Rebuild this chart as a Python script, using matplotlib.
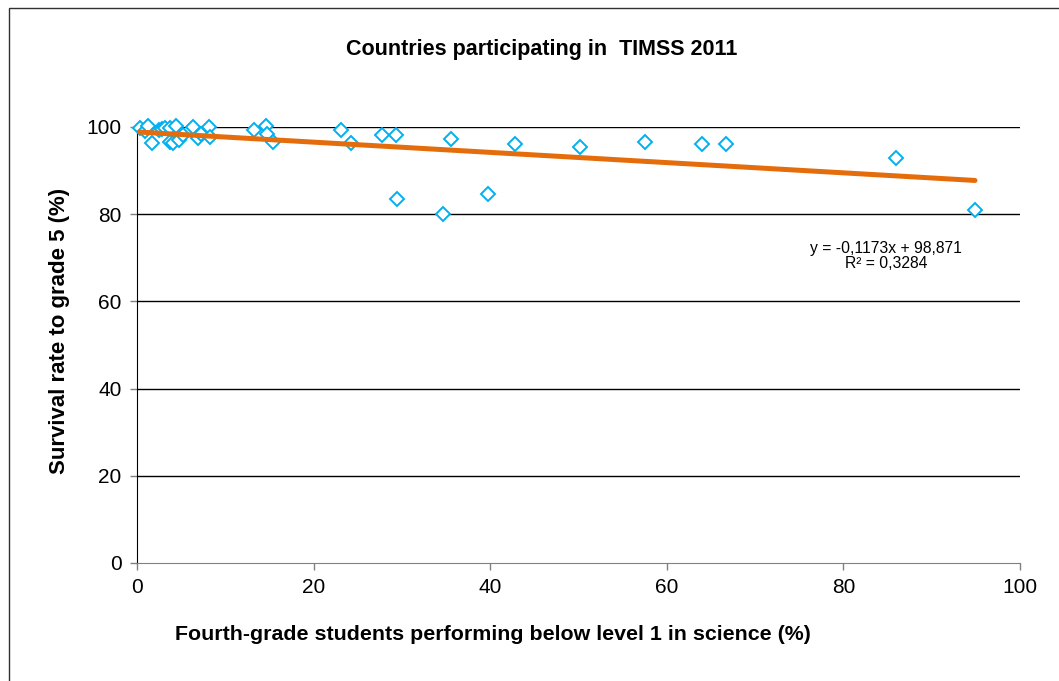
import matplotlib
matplotlib.use("Agg")
import matplotlib.pyplot as plt
from matplotlib.patches import Rectangle

plt.rcParams['font.family'] = ['Liberation Sans', 'DejaVu Sans']

# share of fourth-graders below level 1 in science (%) vs survival rate to grade 5 (%)
below_level1 = [0.3, 0.9, 1.2, 1.7, 2.5, 2.8, 3.2, 3.7, 3.7, 4.1,
                4.4, 4.7, 5.2, 6.3, 6.9, 7.3, 8.2, 8.3, 13.2, 14.6,
                14.7, 15.4, 23.1, 24.2, 27.8, 29.3, 29.5, 34.6, 35.6, 39.7,
                42.8, 50.2, 57.5, 64.0, 66.7, 86.0, 94.9]
survival = [99.7, 99.0, 100.2, 96.3, 99.2, 99.5, 99.8, 99.7, 96.6, 96.3,
            100.2, 97.0, 98.2, 99.9, 97.4, 98.5, 99.9, 97.8, 99.2, 100.2,
            98.5, 96.6, 99.2, 96.3, 98.2, 98.2, 83.4, 80.0, 97.2, 84.6,
            96.0, 95.4, 96.5, 96.0, 96.0, 93.0, 81.0]

# linear trend as reported on the chart
slope = -0.1173
intercept = 98.871
r2 = 0.3284

x_ticks = [0, 20, 40, 60, 80, 100]
y_ticks = [0, 20, 40, 60, 80, 100]

fig = plt.figure(figsize=(10.59, 6.81), dpi=100)
ax = fig.add_axes([137 / 1059, 118 / 681, 883 / 1059, 436 / 681])

# outer chart border (cut off at right/bottom like the reference)
fig.patches.append(Rectangle((9 / 1059, -0.1), 1.2, (681 - 8) / 681 + 0.1,
                             transform=fig.transFigure, fill=False,
                             edgecolor='#303030', linewidth=1.0))

for yt in y_ticks[1:]:
    ax.axhline(yt, color='black', linewidth=1.0, zorder=1)

ax.plot(below_level1, survival, linestyle='none', marker='D', markersize=7,
        markerfacecolor='white', markeredgecolor='#00B0F0', markeredgewidth=1.4,
        clip_on=False, zorder=3)

x_min, x_max = min(below_level1), max(below_level1)
ax.plot([x_min, x_max], [slope * x_min + intercept, slope * x_max + intercept],
        color='#E46C0A', linewidth=3.6, solid_capstyle='round', zorder=4)

ax.text(84.8, 70.5, 'y = -0,1173x + 98,871\nR² = 0,3284', ha='center', va='center',
        fontsize=11.3, linespacing=1.0)

ax.set_xlim(0, 100)
ax.set_ylim(0, 100)
ax.set_xticks(x_ticks)
ax.set_yticks(y_ticks)
ax.tick_params(axis='both', labelsize=15, length=5, width=1, color='#808080',
               direction='out', pad=6)
for side in ['top', 'right']:
    ax.spines[side].set_visible(False)
ax.spines['left'].set_color('black')
ax.spines['bottom'].set_color('#808080')

fig.text(542 / 1059, 1 - 50 / 681, 'Countries participating in  TIMSS 2011',
         ha='center', va='center', fontsize=15.5, fontweight='bold')
fig.text(493 / 1059, 1 - 634 / 681, 'Fourth-grade students performing below level 1 in science (%)',
         ha='center', va='center', fontsize=15.4, fontweight='bold')
fig.text(60 / 1059, 1 - 331 / 681, 'Survival rate to grade 5 (%)',
         ha='center', va='center', fontsize=16, fontweight='bold', rotation=90)

fig.savefig('out.png', dpi=100)
